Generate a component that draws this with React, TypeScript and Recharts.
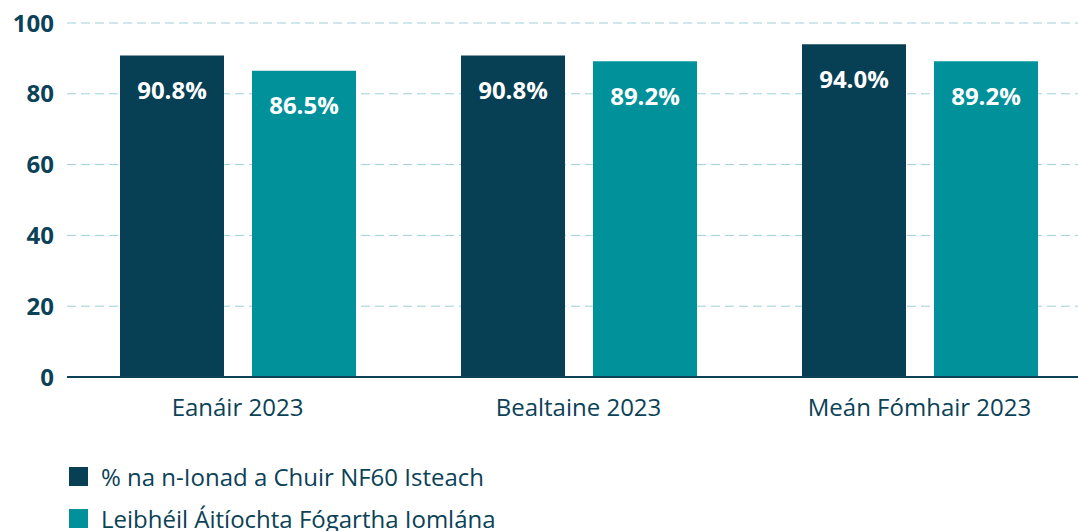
import React from 'react';
import { BarChart, Bar, XAxis, YAxis, CartesianGrid, Legend, LabelList } from 'recharts';

const categories = ['Eanáir 2023', 'Bealtaine 2023', 'Meán Fómhair 2023'];
const seriesNames = ['% na n-Ionad a Chuir NF60 Isteach', 'Leibhéil Áitíochta Fógartha Iomlána'];
const submitted = [90.8, 90.8, 94.0];
const occupancy = [86.5, 89.2, 89.2];
const yTicks = [0, 20, 40, 60, 80, 100];

const DARK = '#073f55';
const TEAL = '#00919a';
const TEXT = '#0b4257';

const data = categories.map((c, i) => ({ name: c, a: submitted[i], b: occupancy[i] }));

const renderLabel = (props: any) => {
  const { x, y, width, value } = props;
  return (
    <text
      x={x + width / 2}
      y={y + 34}
      fill="#ffffff"
      fontSize={24}
      fontWeight={700}
      textAnchor="middle"
      dominantBaseline="central"
    >
      {`${Number(value).toFixed(1)}%`}
    </text>
  );
};

const renderLegend = (props: any) => {
  const { payload } = props;
  return (
    <div style={{ paddingLeft: 69, paddingTop: 18 }}>
      {(payload || []).map((p: any, i: number) => (
        <div key={i} style={{ display: 'flex', alignItems: 'center', height: 42 }}>
          <div style={{ width: 19, height: 19, background: p.color, marginRight: 13 }} />
          <span style={{ fontSize: 24, color: TEXT }}>{p.value}</span>
        </div>
      ))}
    </div>
  );
};

export default function App() {
  return (
    <div
      style={{
        position: 'fixed',
        top: 0,
        left: 0,
        width: 1078,
        height: 531,
        overflow: 'hidden',
        background: '#ffffff',
        fontFamily: '"Open Sans", "Noto Sans", sans-serif',
      }}
    >
      <BarChart
        width={1100}
        height={531}
        data={data}
        margin={{ top: 23, right: 10, left: 0, bottom: 0 }}
        barGap={28}
        barSize={104}
      >
        <CartesianGrid vertical={false} stroke="#9fd0d6" strokeDasharray="9 5" />
        <XAxis
          dataKey="name"
          height={60}
          tickLine={false}
          axisLine={{ stroke: TEXT, strokeWidth: 2 }}
          tick={{ fill: TEXT, fontSize: 24 }}
          tickMargin={16}
        />
        <YAxis
          width={67}
          domain={[0, 100]}
          ticks={yTicks}
          axisLine={false}
          tickLine={false}
          tickMargin={7}
          tick={{ fill: TEXT, fontSize: 24, fontWeight: 700 }}
        />
        <Legend
          verticalAlign="bottom"
          align="left"
          content={renderLegend}
          wrapperStyle={{ height: 94 }}
        />
        <Bar dataKey="a" name={seriesNames[0]} fill={DARK} isAnimationActive={false}>
          <LabelList dataKey="a" content={renderLabel} />
        </Bar>
        <Bar dataKey="b" name={seriesNames[1]} fill={TEAL} isAnimationActive={false}>
          <LabelList dataKey="b" content={renderLabel} />
        </Bar>
      </BarChart>
    </div>
  );
}
